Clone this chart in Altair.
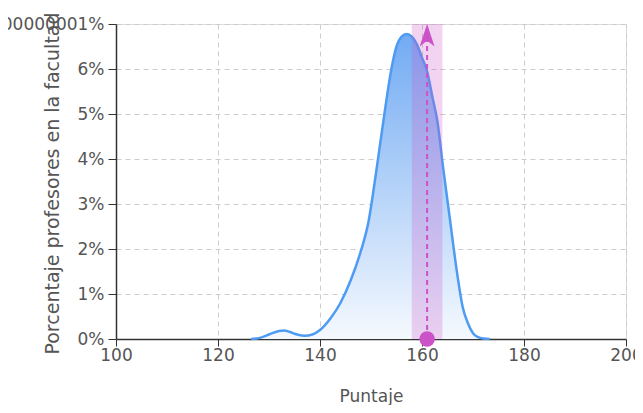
import altair as alt
import pandas as pd

# Density curve (score -> share of teachers)
score = [126.5, 128, 130, 132, 133, 134, 135.5, 137, 138.5, 140, 142, 144, 146, 148,
         149.5, 151, 152.5, 154, 155, 156, 157, 158, 159, 160, 161, 162, 163, 164.2,
         165.5, 166.8, 168, 169, 170, 171, 172, 173.3]
share_pct = [0, 0.02, 0.1, 0.18, 0.19, 0.16, 0.1, 0.07, 0.1, 0.2, 0.45, 0.8, 1.3, 1.95,
             2.6, 3.7, 4.9, 6.0, 6.5, 6.72, 6.78, 6.72, 6.55, 6.25, 5.95, 5.4, 4.85, 3.76,
             2.64, 1.53, 0.7, 0.35, 0.13, 0.04, 0.01, 0]

band_start = [158]
band_end = [164]
marker_score = [161]
y_bottom = [0]
y_top = [0.07]
x_ticks = [100, 120, 140, 160, 180, 200]
y_ticks = [0, 0.01, 0.02, 0.03, 0.04, 0.05, 0.06, 0.07]

curve = pd.DataFrame({"Puntaje": score, "share": [v / 100 for v in share_pct]})
band = pd.DataFrame({"Puntaje": band_start, "Puntaje_end": band_end,
                     "share": y_bottom, "share_top": y_top})
marker_bottom = pd.DataFrame({"Puntaje": marker_score, "share": y_bottom, "share_top": y_top})
marker_top = pd.DataFrame({"Puntaje": marker_score, "share": y_top})

FONT = "DejaVu Sans"
PINK = "#cc52c8"

xscale = alt.Scale(domain=[100, 200], nice=False, zero=False)
yscale = alt.Scale(domain=[0, 0.07], nice=False)

xaxis = alt.Axis(values=x_ticks, title="Puntaje", grid=True, gridDash=[5, 4],
                 gridColor="#cccccc", domainColor="#333333", domainWidth=1.5,
                 tickColor="#333333", tickSize=7, labelPadding=1, labelFontSize=17,
                 labelFlush=False, labelColor="#555555", labelFont=FONT,
                 titleFont=FONT, titleFontSize=17, titleFontWeight="normal",
                 titleColor="#555555", titleY=57, titleBaseline="middle")
yaxis = alt.Axis(values=y_ticks, title="Porcentaje profesores en la facultad",
                 labelExpr="datum.value * 100 + '%'", labelLimit=1000, grid=True,
                 gridDash=[5, 4], gridColor="#cccccc", domainColor="#333333",
                 domainWidth=1.5, tickColor="#333333", tickSize=8, labelPadding=4,
                 labelFontSize=17, labelColor="#555555", labelFont=FONT,
                 titleFont=FONT, titleFontSize=19, titleFontWeight="normal",
                 titleColor="#555555", titleX=-64, titleY=159, titleAngle=-90,
                 titleAlign="center", titleBaseline="middle")


def X(field):
    return alt.X(field, type="quantitative", scale=xscale, axis=xaxis)


def Y(field):
    return alt.Y(field, type="quantitative", scale=yscale, axis=yaxis)


area = alt.Chart(curve).mark_area(
    interpolate="monotone",
    color=alt.Gradient(gradient="linear", x1=1, x2=1, y1=0, y2=1,
                       stops=[alt.GradientStop(color="#72abf3", offset=0),
                              alt.GradientStop(color="#f5f9fe", offset=1)]),
).encode(x=X("Puntaje"), y=Y("share"))

line = alt.Chart(curve).mark_line(
    interpolate="monotone", color="#4d9bf3", strokeWidth=2.5
).encode(x=X("Puntaje"), y=Y("share"))

band_layer = alt.Chart(band).mark_rect(color=PINK, opacity=0.25).encode(
    x=X("Puntaje"), x2="Puntaje_end", y=Y("share"), y2="share_top")

rule = alt.Chart(marker_bottom).mark_rule(
    color=PINK, strokeDash=[5, 4], strokeWidth=2
).encode(x=X("Puntaje"), y=Y("share"), y2="share_top")

dot = alt.Chart(marker_bottom).mark_point(
    shape="circle", filled=True, size=240, color=PINK, opacity=1
).encode(x=X("Puntaje"), y=Y("share"))

arrow = alt.Chart(marker_top).mark_point(
    shape="M0,0 L0.6,1.8 L0,1.35 L-0.6,1.8 Z", filled=True, size=620,
    color=PINK, opacity=1
).encode(x=X("Puntaje"), y=Y("share"))

chart = alt.layer(area, line, band_layer, rule, dot, arrow).properties(
    width=510, height=315,
    autosize=alt.AutoSizeParams(type="none"),
    padding={"left": 108, "top": 16, "right": 9, "bottom": 66},
).configure_view(stroke=None).configure(background="white")

chart.save("out.html", embed_options={"renderer": "svg", "actions": False})
